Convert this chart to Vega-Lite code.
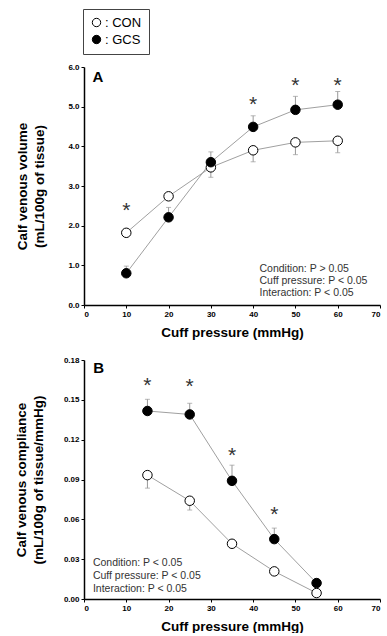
{
  "$schema": "https://vega.github.io/schema/vega-lite/v6.json",
  "padding": {"left": 14, "top": 8, "right": 0, "bottom": 0},
  "background": "white",
  "spacing": 17,
  "config": {
    "view": {"stroke": null},
    "font": "Liberation Sans",
    "axis": {
      "grid": false,
      "domainColor": "black",
      "domainWidth": 1.5,
      "tickColor": "black",
      "tickSize": 3,
      "tickWidth": 1,
      "labelFont": "Liberation Sans",
      "labelFontWeight": "bold",
      "labelFontSize": 8,
      "labelColor": "black",
      "labelOverlap": false,
      "labelSeparation": 0,
      "titleFont": "Liberation Sans",
      "titleFontWeight": "bold",
      "titleFontSize": 13.5,
      "titleColor": "black",
      "titleLineHeight": 17
    }
  },
  "resolve": {"scale": {"fill": "independent"}, "legend": {"fill": "independent"}},
  "datasets": {
    "vol": [
      {"group": "CON", "p": 10, "v": 1.82, "err": null},
      {"group": "CON", "p": 20, "v": 2.74, "err": null},
      {"group": "CON", "p": 30, "v": 3.47, "err": 3.22},
      {"group": "CON", "p": 40, "v": 3.90, "err": 3.61},
      {"group": "CON", "p": 50, "v": 4.10, "err": 3.79},
      {"group": "CON", "p": 60, "v": 4.14, "err": 3.84},
      {"group": "GCS", "p": 10, "v": 0.80, "err": 0.98},
      {"group": "GCS", "p": 20, "v": 2.21, "err": 2.46},
      {"group": "GCS", "p": 30, "v": 3.60, "err": 3.86},
      {"group": "GCS", "p": 40, "v": 4.49, "err": 4.77},
      {"group": "GCS", "p": 50, "v": 4.92, "err": 5.26},
      {"group": "GCS", "p": 60, "v": 5.05, "err": 5.38}
    ],
    "comp": [
      {"group": "CON", "p": 15, "v": 0.0933, "err": 0.0835},
      {"group": "CON", "p": 25, "v": 0.074, "err": 0.067},
      {"group": "CON", "p": 35, "v": 0.0416, "err": null},
      {"group": "CON", "p": 45, "v": 0.0208, "err": null},
      {"group": "CON", "p": 55, "v": 0.0045, "err": null},
      {"group": "GCS", "p": 15, "v": 0.1416, "err": 0.1504},
      {"group": "GCS", "p": 25, "v": 0.139, "err": 0.1474},
      {"group": "GCS", "p": 35, "v": 0.089, "err": 0.1008},
      {"group": "GCS", "p": 45, "v": 0.0451, "err": 0.0534},
      {"group": "GCS", "p": 55, "v": 0.012, "err": null}
    ],
    "starsA": [
      {"p": 10, "v": 2.49},
      {"p": 40, "v": 5.16},
      {"p": 50, "v": 5.64},
      {"p": 60, "v": 5.64}
    ],
    "starsB": [
      {"p": 15, "v": 0.1644},
      {"p": 25, "v": 0.1635},
      {"p": 35, "v": 0.1116},
      {"p": 45, "v": 0.0667}
    ],
    "notesA": [
      {"p": 41.5, "v": 0.91, "label": "Condition:  P > 0.05"},
      {"p": 41.5, "v": 0.60, "label": "Cuff pressure: P < 0.05"},
      {"p": 41.5, "v": 0.29, "label": "Interaction:  P < 0.05"}
    ],
    "notesB": [
      {"p": 2.1, "v": 0.0271, "label": "Condition:  P < 0.05"},
      {"p": 2.1, "v": 0.0170, "label": "Cuff pressure: P < 0.05"},
      {"p": 2.1, "v": 0.0078, "label": "Interaction:  P < 0.05"}
    ],
    "panelA": [{"p": 2.0, "v": 5.74, "label": "A"}],
    "panelB": [{"p": 2.2, "v": 0.1738, "label": "B"}]
  },
  "vconcat": [
    {
      "width": 296,
      "height": 238,
      "layer": [
        {
          "data": {"name": "vol"},
          "mark": {"type": "line", "color": "#a0a0a0", "strokeWidth": 1},
          "encoding": {
            "x": {"field": "p", "type": "quantitative", "scale": {"domain": [0, 70]}, "axis": {"values": [0,10,20,30,40,50,60,70], "format": "d", "title": "Cuff pressure (mmHg)", "titlePadding": 7, "labelOverlap": false}},
            "y": {"field": "v", "type": "quantitative", "scale": {"domain": [0, 6], "nice": false}, "axis": {"values": [0,1,2,3,4,5,6], "format": ".1f", "title": ["Calf venous volume", "(mL/100g of tissue)"], "titlePadding": 21, "labelOverlap": false, "tickCount": 7}},
            "detail": {"field": "group"}
          }
        },
        {
          "data": {"name": "vol"},
          "transform": [{"filter": "isValid(datum.err)"}],
          "mark": {"type": "rule", "color": "#999999", "strokeWidth": 1},
          "encoding": {
            "x": {"field": "p", "type": "quantitative"},
            "y": {"field": "v", "type": "quantitative"},
            "y2": {"field": "err"}
          }
        },
        {
          "data": {"name": "vol"},
          "transform": [{"filter": "isValid(datum.err)"}],
          "mark": {"type": "tick", "color": "#999999", "orient": "horizontal", "size": 5, "thickness": 1},
          "encoding": {
            "x": {"field": "p", "type": "quantitative"},
            "y": {"field": "err", "type": "quantitative"}
          }
        },
        {
          "data": {"name": "vol"},
          "mark": {"type": "point", "shape": "circle", "filled": true, "stroke": "black", "strokeWidth": 1, "size": 90, "opacity": 1},
          "encoding": {
            "x": {"field": "p", "type": "quantitative"},
            "y": {"field": "v", "type": "quantitative"},
            "fill": {"field": "group", "type": "nominal", "scale": {"domain": ["CON", "GCS"], "range": ["white", "black"]},
              "legend": {"orient": "none", "legendX": -1, "legendY": -58, "title": null, "labelExpr": "' : ' + datum.label", "strokeColor": "#444444", "padding": 7, "labelFont": "Liberation Sans", "labelFontSize": 13, "labelColor": "black", "symbolSize": 70, "symbolType": "circle", "symbolStrokeColor": "black", "symbolStrokeWidth": 1, "rowPadding": 3, "labelOffset": 2}}
          }
        },
        {
          "data": {"name": "starsA"},
          "mark": {"type": "text", "text": "*", "fontSize": 21, "color": "#333333", "baseline": "middle", "dy": 5},
          "encoding": {
            "x": {"field": "p", "type": "quantitative"},
            "y": {"field": "v", "type": "quantitative"}
          }
        },
        {
          "data": {"name": "notesA"},
          "mark": {"type": "text", "align": "left", "baseline": "middle", "fontSize": 10.5, "color": "#333333"},
          "encoding": {
            "x": {"field": "p", "type": "quantitative"},
            "y": {"field": "v", "type": "quantitative"},
            "text": {"field": "label"}
          }
        },
        {
          "data": {"name": "panelA"},
          "mark": {"type": "text", "align": "left", "baseline": "middle", "fontSize": 15, "fontWeight": "bold", "color": "black"},
          "encoding": {
            "x": {"field": "p", "type": "quantitative"},
            "y": {"field": "v", "type": "quantitative"},
            "text": {"field": "label"}
          }
        }
      ]
    },
    {
      "width": 296,
      "height": 239,
      "layer": [
        {
          "data": {"name": "comp"},
          "mark": {"type": "line", "color": "#a0a0a0", "strokeWidth": 1},
          "encoding": {
            "x": {"field": "p", "type": "quantitative", "scale": {"domain": [0, 70]}, "axis": {"values": [0,10,20,30,40,50,60,70], "format": "d", "title": "Cuff pressure (mmHg)", "titlePadding": 7, "labelOverlap": false}},
            "y": {"field": "v", "type": "quantitative", "scale": {"domain": [0, 0.18], "nice": false}, "axis": {"values": [0,0.03,0.06,0.09,0.12,0.15,0.18], "format": ".2f", "title": ["Calf venous compliance", "(mL/100g of tissue/mmHg)"], "titlePadding": 18, "labelOverlap": false, "tickCount": 7}},
            "detail": {"field": "group"}
          }
        },
        {
          "data": {"name": "comp"},
          "transform": [{"filter": "isValid(datum.err)"}],
          "mark": {"type": "rule", "color": "#999999", "strokeWidth": 1},
          "encoding": {
            "x": {"field": "p", "type": "quantitative"},
            "y": {"field": "v", "type": "quantitative"},
            "y2": {"field": "err"}
          }
        },
        {
          "data": {"name": "comp"},
          "transform": [{"filter": "isValid(datum.err)"}],
          "mark": {"type": "tick", "color": "#999999", "orient": "horizontal", "size": 5, "thickness": 1},
          "encoding": {
            "x": {"field": "p", "type": "quantitative"},
            "y": {"field": "err", "type": "quantitative"}
          }
        },
        {
          "data": {"name": "comp"},
          "mark": {"type": "point", "shape": "circle", "filled": true, "stroke": "black", "strokeWidth": 1, "size": 90, "opacity": 1},
          "encoding": {
            "x": {"field": "p", "type": "quantitative"},
            "y": {"field": "v", "type": "quantitative"},
            "fill": {"field": "group", "type": "nominal", "scale": {"domain": ["CON", "GCS"], "range": ["white", "black"]}, "legend": null}
          }
        },
        {
          "data": {"name": "starsB"},
          "mark": {"type": "text", "text": "*", "fontSize": 21, "color": "#333333", "baseline": "middle", "dy": 5},
          "encoding": {
            "x": {"field": "p", "type": "quantitative"},
            "y": {"field": "v", "type": "quantitative"}
          }
        },
        {
          "data": {"name": "notesB"},
          "mark": {"type": "text", "align": "left", "baseline": "middle", "fontSize": 10.5, "color": "#333333"},
          "encoding": {
            "x": {"field": "p", "type": "quantitative"},
            "y": {"field": "v", "type": "quantitative"},
            "text": {"field": "label"}
          }
        },
        {
          "data": {"name": "panelB"},
          "mark": {"type": "text", "align": "left", "baseline": "middle", "fontSize": 15, "fontWeight": "bold", "color": "black"},
          "encoding": {
            "x": {"field": "p", "type": "quantitative"},
            "y": {"field": "v", "type": "quantitative"},
            "text": {"field": "label"}
          }
        }
      ]
    }
  ]
}
